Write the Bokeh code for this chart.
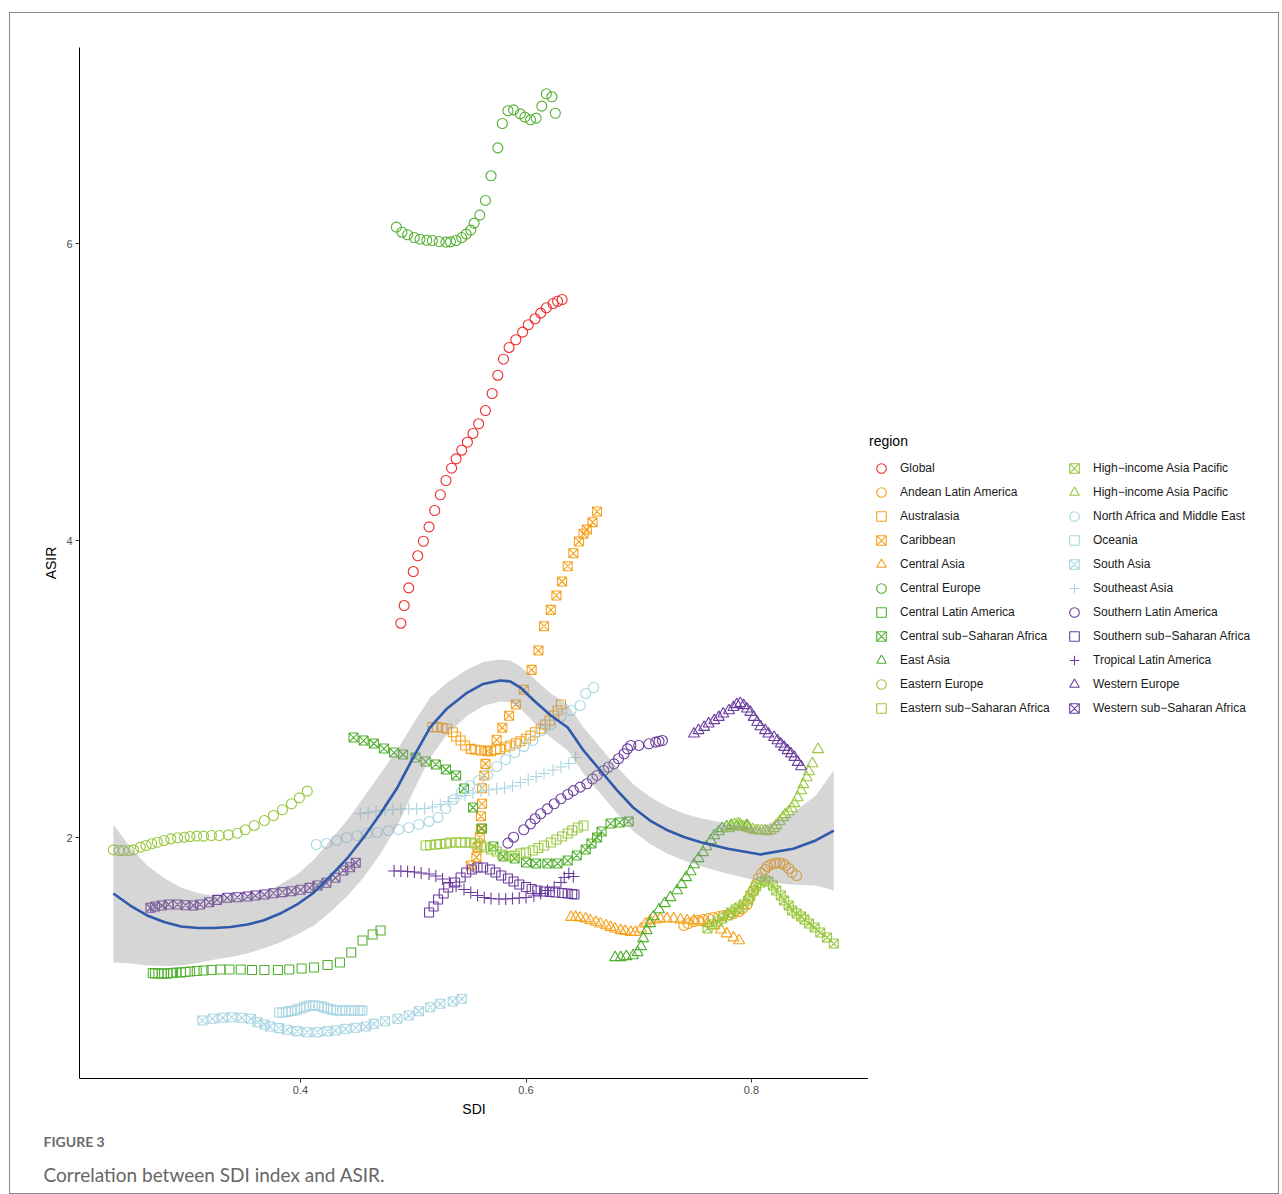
from bokeh.plotting import figure
from bokeh.models import Range1d, FixedTicker, Legend, LegendItem, Title
from bokeh.layouts import row
from bokeh.embed import file_html
from bokeh.resources import INLINE

# ---------------- data ----------------
global_x = [0.489,0.492,0.496,0.500,0.504,0.509,0.514,0.519,0.524,0.529,0.534,0.538,0.543,0.548,0.553,0.558,0.564,0.570,0.575,0.580,0.585,0.591,0.597,0.602,0.608,0.613,0.618,0.624,0.628,0.632]
global_y = [3.443,3.562,3.681,3.791,3.897,3.995,4.092,4.202,4.308,4.404,4.487,4.550,4.608,4.662,4.721,4.786,4.875,4.990,5.113,5.221,5.300,5.352,5.403,5.453,5.493,5.531,5.567,5.596,5.611,5.623]

andean_x = [0.740,0.744,0.749,0.753,0.757,0.762,0.766,0.771,0.775,0.780,0.784,0.789,0.792,0.796,0.798,0.801,0.804,0.806,0.809,0.812,0.814,0.817,0.820,0.822,0.825,0.828,0.830,0.833,0.836,0.840]
andean_y = [1.407,1.421,1.434,1.441,1.448,1.455,1.461,1.468,1.475,1.481,1.488,1.502,1.522,1.549,1.589,1.636,1.684,1.724,1.758,1.785,1.805,1.818,1.825,1.828,1.828,1.825,1.811,1.791,1.764,1.744]

australasia_x = [0.517,0.521,0.526,0.530,0.535,0.538,0.542,0.546,0.551,0.555,0.560,0.564,0.569,0.573,0.577,0.582,0.586,0.591,0.595,0.600,0.604,0.608,0.613,0.617,0.621,0.625,0.628,0.631]
australasia_y = [2.743,2.743,2.739,2.732,2.709,2.680,2.653,2.620,2.597,2.591,2.586,2.586,2.581,2.591,2.595,2.608,2.620,2.635,2.648,2.665,2.687,2.709,2.732,2.761,2.788,2.822,2.855,2.896]

caribbean_x = [0.551,0.556,0.557,0.559,0.560,0.560,0.561,0.561,0.563,0.564,0.566,0.574,0.579,0.585,0.591,0.598,0.605,0.611,0.616,0.622,0.627,0.632,0.637,0.642,0.647,0.651,0.654,0.659,0.663]
caribbean_y = [1.811,1.867,1.935,2.002,2.059,2.143,2.227,2.332,2.418,2.496,2.581,2.658,2.739,2.820,2.896,2.995,3.129,3.259,3.423,3.533,3.630,3.724,3.827,3.914,3.993,4.045,4.074,4.123,4.195]

central_asia_x = [0.640,0.644,0.648,0.653,0.657,0.662,0.666,0.671,0.675,0.679,0.684,0.688,0.693,0.697,0.702,0.706,0.710,0.715,0.719,0.725,0.731,0.737,0.743,0.749,0.755,0.761,0.767,0.773,0.778,0.784,0.789]
central_asia_y = [1.463,1.463,1.459,1.453,1.441,1.430,1.419,1.407,1.396,1.385,1.374,1.369,1.362,1.362,1.385,1.419,1.441,1.446,1.453,1.453,1.453,1.446,1.441,1.441,1.430,1.423,1.407,1.378,1.352,1.325,1.306]

central_europe_x = [0.485,0.490,0.495,0.501,0.506,0.512,0.517,0.523,0.529,0.533,0.538,0.543,0.547,0.551,0.554,0.559,0.564,0.569,0.575,0.579,0.584,0.589,0.595,0.599,0.604,0.609,0.614,0.618,0.623,0.626]
central_europe_y = [6.110,6.076,6.059,6.040,6.029,6.022,6.020,6.013,6.009,6.011,6.020,6.040,6.063,6.090,6.137,6.191,6.290,6.456,6.644,6.808,6.894,6.900,6.873,6.851,6.833,6.844,6.925,7.008,6.988,6.877]

central_latam_x = [0.269,0.271,0.274,0.277,0.279,0.282,0.285,0.287,0.290,0.294,0.298,0.302,0.308,0.314,0.321,0.329,0.337,0.347,0.357,0.368,0.380,0.390,0.401,0.412,0.424,0.435,0.445,0.455,0.464,0.471]
central_latam_y = [1.088,1.084,1.084,1.084,1.084,1.084,1.088,1.088,1.091,1.091,1.094,1.098,1.101,1.104,1.108,1.111,1.111,1.111,1.108,1.108,1.108,1.111,1.118,1.125,1.141,1.158,1.226,1.306,1.347,1.374]

central_ssa_x = [0.447,0.456,0.465,0.474,0.483,0.491,0.502,0.511,0.520,0.529,0.538,0.545,0.553,0.561,0.571,0.580,0.590,0.600,0.609,0.619,0.628,0.637,0.645,0.653,0.658,0.663,0.667,0.675,0.683,0.691]
central_ssa_y = [2.673,2.653,2.633,2.599,2.572,2.559,2.539,2.512,2.492,2.458,2.418,2.330,2.202,2.061,1.939,1.872,1.859,1.832,1.825,1.825,1.825,1.845,1.879,1.919,1.960,2.000,2.040,2.094,2.101,2.108]

east_asia_x = [0.679,0.684,0.689,0.695,0.699,0.702,0.704,0.707,0.710,0.713,0.718,0.723,0.728,0.734,0.738,0.742,0.746,0.749,0.753,0.757,0.760,0.764,0.767,0.771,0.774,0.778,0.782,0.787,0.791,0.796]
east_asia_y = [1.192,1.192,1.199,1.205,1.226,1.266,1.320,1.374,1.421,1.468,1.515,1.556,1.596,1.643,1.684,1.731,1.771,1.818,1.859,1.899,1.939,1.980,2.013,2.040,2.061,2.074,2.081,2.074,2.074,2.081]

eastern_europe_x = [0.234,0.239,0.243,0.248,0.252,0.258,0.263,0.268,0.273,0.279,0.285,0.291,0.297,0.302,0.308,0.314,0.321,0.328,0.336,0.344,0.351,0.359,0.368,0.376,0.384,0.392,0.399,0.406]
eastern_europe_y = [1.917,1.912,1.912,1.912,1.917,1.935,1.946,1.958,1.968,1.980,1.991,1.998,2.002,2.007,2.009,2.009,2.013,2.013,2.018,2.029,2.052,2.081,2.114,2.148,2.187,2.227,2.267,2.312]

eastern_ssa_x = [0.511,0.515,0.520,0.524,0.529,0.533,0.538,0.542,0.546,0.551,0.555,0.560,0.564,0.569,0.574,0.579,0.585,0.590,0.595,0.600,0.606,0.611,0.616,0.622,0.627,0.632,0.637,0.641,0.646,0.651]
eastern_ssa_y = [1.946,1.949,1.953,1.956,1.960,1.966,1.966,1.966,1.966,1.966,1.960,1.946,1.933,1.919,1.906,1.886,1.875,1.879,1.892,1.899,1.912,1.929,1.946,1.966,1.987,2.007,2.027,2.047,2.067,2.081]

hiap_box_x = [0.761,0.765,0.770,0.774,0.779,0.782,0.786,0.789,0.793,0.797,0.799,0.802,0.804,0.808,0.812,0.815,0.819,0.822,0.826,0.829,0.833,0.836,0.840,0.844,0.847,0.851,0.856,0.861,0.867,0.873]
hiap_box_y = [1.387,1.414,1.434,1.455,1.475,1.495,1.515,1.529,1.549,1.576,1.609,1.643,1.670,1.697,1.710,1.704,1.677,1.643,1.609,1.576,1.542,1.508,1.488,1.468,1.448,1.421,1.394,1.360,1.327,1.286]

hiap_tri_x = [0.780,0.782,0.785,0.788,0.790,0.793,0.796,0.798,0.801,0.804,0.806,0.809,0.812,0.814,0.817,0.820,0.822,0.825,0.828,0.830,0.833,0.836,0.838,0.841,0.844,0.846,0.849,0.851,0.854,0.859]
hiap_tri_y = [2.061,2.074,2.088,2.094,2.088,2.074,2.067,2.061,2.054,2.047,2.047,2.047,2.047,2.040,2.047,2.061,2.081,2.108,2.135,2.155,2.175,2.195,2.229,2.269,2.316,2.357,2.404,2.444,2.498,2.593]

name_x = [0.414,0.423,0.432,0.441,0.450,0.459,0.468,0.478,0.487,0.496,0.505,0.514,0.522,0.529,0.536,0.543,0.550,0.558,0.566,0.574,0.582,0.590,0.598,0.606,0.614,0.622,0.631,0.640,0.648,0.653,0.660]
name_y = [1.953,1.960,1.980,2.000,2.013,2.027,2.034,2.047,2.054,2.067,2.088,2.108,2.135,2.195,2.256,2.310,2.350,2.384,2.424,2.478,2.525,2.572,2.613,2.653,2.721,2.761,2.815,2.855,2.889,2.970,3.010]

oceania_x = [0.381,0.384,0.387,0.389,0.392,0.395,0.397,0.400,0.403,0.405,0.408,0.411,0.413,0.416,0.419,0.421,0.424,0.427,0.429,0.432,0.435,0.437,0.440,0.443,0.445,0.448,0.451,0.453,0.455]
oceania_y = [0.822,0.822,0.825,0.828,0.832,0.835,0.842,0.848,0.855,0.862,0.869,0.869,0.869,0.865,0.862,0.855,0.848,0.842,0.838,0.835,0.835,0.835,0.835,0.835,0.835,0.835,0.835,0.835,0.835]

south_asia_x = [0.313,0.322,0.331,0.339,0.348,0.356,0.362,0.368,0.373,0.381,0.388,0.397,0.406,0.415,0.424,0.431,0.440,0.449,0.458,0.465,0.475,0.486,0.496,0.505,0.515,0.524,0.535,0.543]
south_asia_y = [0.768,0.779,0.786,0.790,0.786,0.779,0.756,0.741,0.727,0.716,0.705,0.696,0.689,0.689,0.696,0.700,0.712,0.719,0.727,0.745,0.763,0.779,0.801,0.830,0.857,0.880,0.896,0.914]

se_asia_x = [0.453,0.460,0.467,0.475,0.482,0.489,0.496,0.503,0.510,0.517,0.524,0.531,0.538,0.546,0.553,0.560,0.567,0.574,0.581,0.588,0.595,0.602,0.609,0.616,0.624,0.631,0.638,0.644]
se_asia_y = [2.162,2.168,2.178,2.185,2.189,2.192,2.192,2.192,2.195,2.205,2.222,2.242,2.263,2.283,2.300,2.313,2.320,2.327,2.333,2.347,2.370,2.391,2.411,2.431,2.455,2.475,2.498,2.539]

s_latam_x = [0.584,0.589,0.598,0.604,0.608,0.613,0.619,0.625,0.631,0.637,0.642,0.648,0.654,0.659,0.663,0.669,0.673,0.678,0.682,0.687,0.690,0.693,0.700,0.709,0.715,0.718,0.721]
s_latam_y = [1.962,2.002,2.052,2.092,2.126,2.160,2.193,2.227,2.261,2.290,2.316,2.339,2.362,2.395,2.418,2.451,2.473,2.496,2.530,2.564,2.597,2.620,2.620,2.631,2.642,2.648,2.653]

s_ssa_x = [0.514,0.518,0.522,0.527,0.531,0.537,0.542,0.547,0.552,0.557,0.562,0.568,0.573,0.578,0.584,0.589,0.594,0.600,0.605,0.610,0.616,0.621,0.626,0.632,0.637,0.641,0.643]
s_ssa_y = [1.495,1.535,1.582,1.623,1.663,1.697,1.731,1.764,1.785,1.798,1.798,1.785,1.764,1.744,1.724,1.704,1.684,1.667,1.653,1.643,1.636,1.633,1.630,1.626,1.623,1.620,1.616]

tropical_x = [0.483,0.489,0.495,0.501,0.507,0.514,0.520,0.526,0.532,0.538,0.545,0.551,0.557,0.563,0.569,0.576,0.582,0.588,0.594,0.600,0.607,0.613,0.619,0.625,0.631,0.634,0.638,0.642]
tropical_y = [1.774,1.774,1.771,1.768,1.761,1.754,1.741,1.721,1.697,1.673,1.650,1.630,1.609,1.596,1.589,1.586,1.586,1.589,1.593,1.596,1.606,1.623,1.643,1.667,1.697,1.731,1.758,1.737]

w_europe_x = [0.749,0.753,0.758,0.762,0.767,0.771,0.775,0.780,0.784,0.787,0.790,0.793,0.796,0.799,0.802,0.805,0.808,0.812,0.815,0.820,0.823,0.826,0.829,0.832,0.835,0.838,0.841,0.844]
w_europe_y = [2.698,2.721,2.743,2.766,2.788,2.810,2.833,2.855,2.877,2.896,2.904,2.889,2.867,2.844,2.810,2.776,2.747,2.721,2.698,2.675,2.653,2.631,2.608,2.586,2.564,2.541,2.507,2.478]

w_ssa_x = [0.267,0.271,0.277,0.283,0.291,0.298,0.305,0.311,0.319,0.326,0.335,0.344,0.353,0.360,0.368,0.376,0.384,0.392,0.400,0.408,0.415,0.423,0.431,0.438,0.444,0.449]
w_ssa_y = [1.527,1.535,1.542,1.549,1.549,1.544,1.542,1.549,1.564,1.580,1.594,1.598,1.603,1.609,1.616,1.625,1.632,1.638,1.648,1.661,1.677,1.695,1.729,1.778,1.800,1.830]

# loess smooth line and its half band
smooth_x = [0.234,0.249,0.264,0.279,0.294,0.309,0.323,0.338,0.353,0.367,0.382,0.397,0.412,0.427,0.442,0.456,0.471,0.486,0.500,0.515,0.530,0.548,0.562,0.577,0.586,0.595,0.607,0.622,0.637,0.651,0.666,0.681,0.695,0.710,0.726,0.740,0.755,0.779,0.808,0.837,0.857,0.873]
smooth_y = [1.623,1.542,1.475,1.431,1.401,1.391,1.391,1.397,1.414,1.441,1.488,1.549,1.630,1.744,1.865,2.000,2.162,2.337,2.539,2.741,2.869,2.976,3.034,3.057,3.051,3.010,2.923,2.822,2.741,2.586,2.451,2.316,2.202,2.114,2.047,2.003,1.968,1.924,1.886,1.924,1.980,2.047]
smooth_se = [0.465,0.391,0.337,0.296,0.263,0.236,0.215,0.202,0.195,0.189,0.195,0.202,0.222,0.242,0.256,0.269,0.269,0.256,0.229,0.202,0.175,0.155,0.148,0.141,0.141,0.141,0.148,0.148,0.155,0.155,0.155,0.155,0.158,0.158,0.158,0.158,0.162,0.168,0.182,0.242,0.303,0.404]

RED = "#EE2B2B"
ORANGE = "#F5A11C"
GREEN = "#52B030"
LGREEN = "#98C83D"
LBLUE = "#A9D6E3"
PURPLE = "#6A3D9E"

series = [
    ("Global", global_x, global_y, "circle", RED),
    ("Andean Latin America", andean_x, andean_y, "circle", ORANGE),
    ("Australasia", australasia_x, australasia_y, "square", ORANGE),
    ("Caribbean", caribbean_x, caribbean_y, "square_x", ORANGE),
    ("Central Asia", central_asia_x, central_asia_y, "triangle", ORANGE),
    ("Central Europe", central_europe_x, central_europe_y, "circle", GREEN),
    ("Central Latin America", central_latam_x, central_latam_y, "square", GREEN),
    ("Central sub\u2212Saharan Africa", central_ssa_x, central_ssa_y, "square_x", GREEN),
    ("East Asia", east_asia_x, east_asia_y, "triangle", GREEN),
    ("Eastern Europe", eastern_europe_x, eastern_europe_y, "circle", LGREEN),
    ("Eastern sub\u2212Saharan Africa", eastern_ssa_x, eastern_ssa_y, "square", LGREEN),
    ("High\u2212income Asia Pacific", hiap_box_x, hiap_box_y, "square_x", LGREEN),
    ("High\u2212income Asia Pacific", hiap_tri_x, hiap_tri_y, "triangle", LGREEN),
    ("North Africa and Middle East", name_x, name_y, "circle", LBLUE),
    ("Oceania", oceania_x, oceania_y, "square", LBLUE),
    ("South Asia", south_asia_x, south_asia_y, "square_x", LBLUE),
    ("Southeast Asia", se_asia_x, se_asia_y, "cross", LBLUE),
    ("Southern Latin America", s_latam_x, s_latam_y, "circle", PURPLE),
    ("Southern sub\u2212Saharan Africa", s_ssa_x, s_ssa_y, "square", PURPLE),
    ("Tropical Latin America", tropical_x, tropical_y, "cross", PURPLE),
    ("Western Europe", w_europe_x, w_europe_y, "triangle", PURPLE),
    ("Western sub\u2212Saharan Africa", w_ssa_x, w_ssa_y, "square_x", PURPLE),
]

SIZES = {"circle": 10, "square": 9, "square_x": 9, "triangle": 11, "cross": 12}

FONT = "Liberation Sans"

# ---------------- main plot ----------------
p = figure(width=858, height=1180,
           x_range=Range1d(0.20399, 0.90377), y_range=Range1d(0.3771, 7.3199),
           output_backend="svg", toolbar_location=None,
           min_border_left=69, min_border_top=34, min_border_bottom=115, min_border_right=0,
           background_fill_color="white", border_fill_color="white",
           outline_line_color=None)

p.xgrid.visible = False
p.ygrid.visible = False

p.xaxis.ticker = FixedTicker(ticks=[0.4, 0.6, 0.8])
p.yaxis.ticker = FixedTicker(ticks=[2, 4, 6])
p.xaxis.axis_label = "SDI"
p.yaxis.axis_label = "ASIR"
for ax in (p.xaxis, p.yaxis):
    ax.axis_line_color = "black"
    ax.axis_line_width = 1
    ax.major_tick_line_color = "#333333"
    ax.major_tick_out = 4
    ax.major_tick_in = 0
    ax.minor_tick_out = 0
    ax.minor_tick_in = 0
    ax.major_label_text_font = FONT
    ax.major_label_text_font_size = "11px"
    ax.major_label_text_color = "#4D4D4D"
    ax.major_label_standoff = 3
    ax.axis_label_text_font = FONT
    ax.axis_label_text_font_size = "14px"
    ax.axis_label_text_font_style = "normal"
    ax.axis_label_text_color = "black"
    ax.axis_label_standoff = 4

for label, xs, ys, marker, color in series:
    p.scatter(x=xs, y=ys, marker=marker, size=SIZES[marker],
              fill_color=None, line_color=color, line_width=1.1)

lower = [y - s for y, s in zip(smooth_y, smooth_se)]
upper = [y + s for y, s in zip(smooth_y, smooth_se)]
p.varea(x=smooth_x, y1=lower, y2=upper, fill_color="#999999", fill_alpha=0.4)
p.line(x=smooth_x, y=smooth_y, line_color="#2F5AAB", line_width=2.6)

p.add_layout(Title(text="FIGURE 3", align="left", offset=-36, standoff=22,
                   text_font="Lato", text_font_size="14px", text_font_style="bold",
                   text_color="#6b6b6b"), "below")
p.add_layout(Title(text="Correlation between SDI index and ASIR.", align="left",
                   offset=-36, standoff=0,
                   text_font="Lato", text_font_size="19px",
                   text_font_style="normal", text_color="#666666"), "below")

# ---------------- legend panel ----------------
q = figure(width=410, height=1180, x_range=Range1d(0, 1), y_range=Range1d(0, 1),
           x_axis_location=None, y_axis_location=None,
           output_backend="svg", toolbar_location=None, min_border=0,
           background_fill_color="white", border_fill_color="white",
           outline_line_color=None)
q.xgrid.visible = False
q.ygrid.visible = False

# one off-screen point per key so that the legend can draw each marker
legend_renderers = []
for label, xs, ys, marker, color in series:
    r = q.scatter(x=[-100], y=[-100], marker=marker, size=SIZES[marker],
                  fill_color=None, line_color=color, line_width=1.1)
    legend_renderers.append((label, r))

def make_legend(items, title, loc, lw):
    return Legend(items=[LegendItem(label=l, renderers=[r]) for l, r in items],
                  title=title, location=loc, orientation="vertical",
                  border_line_color=None, background_fill_alpha=0,
                  padding=0, margin=0, spacing=0,
                  glyph_width=24, glyph_height=24, label_height=20,
                  label_standoff=7, label_width=lw,
                  label_text_font=FONT, label_text_font_size="12px",
                  label_text_color="#1a1a1a",
                  title_text_font=FONT, title_text_font_size="14px",
                  title_text_font_style="normal", title_text_color="black",
                  title_standoff=7)

q.add_layout(make_legend(legend_renderers[:11], "region", (1, 358), 160))
q.add_layout(make_legend(legend_renderers[11:], " ", (194, 358), 180))

layout = row(p, q)
layout.styles = {"border": "1px solid #8a8a8a", "margin-top": "12px", "margin-left": "9px"}

open("out.html", "w").write(file_html(layout, INLINE))
